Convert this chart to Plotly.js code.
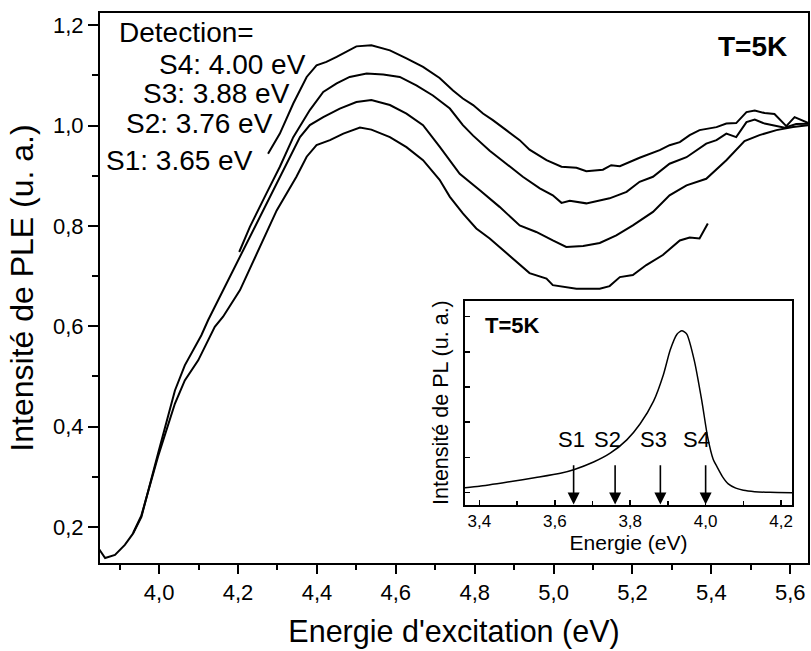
<!DOCTYPE html>
<html>
<head>
<meta charset="utf-8">
<script src="https://cdn.plot.ly/plotly-3.0.1.min.js"></script>
<style>html,body{margin:0;padding:0;background:#fff;}#chart{width:811px;height:651px;}</style>
</head>
<body>
<div id="chart"></div>
<script>
// ---- Data ----
const detNames = ["S1", "S2", "S3", "S4"];
const detEnergies = [3.65, 3.76, 3.88, 4.00];

const s1x = [3.934, 3.955, 3.997, 4.040, 4.065, 4.099, 4.141, 4.162, 4.205, 4.247, 4.298, 4.348, 4.374, 4.399, 4.433, 4.467, 4.509, 4.538, 4.585, 4.627, 4.669, 4.711, 4.737, 4.770, 4.804, 4.838, 4.872, 4.906, 4.939, 4.982, 4.998, 5.058, 5.117, 5.142, 5.168, 5.201, 5.235, 5.277, 5.320, 5.345, 5.370, 5.391];
const s1y = [0.188, 0.223, 0.340, 0.446, 0.492, 0.532, 0.599, 0.619, 0.672, 0.745, 0.831, 0.898, 0.938, 0.961, 0.971, 0.984, 0.996, 0.992, 0.977, 0.957, 0.931, 0.892, 0.858, 0.825, 0.795, 0.775, 0.752, 0.728, 0.706, 0.695, 0.682, 0.675, 0.675, 0.680, 0.698, 0.702, 0.722, 0.742, 0.771, 0.777, 0.775, 0.805];

const s2x = [3.838, 3.863, 3.888, 3.913, 3.934, 3.955, 3.997, 4.040, 4.065, 4.107, 4.124, 4.171, 4.238, 4.281, 4.323, 4.357, 4.382, 4.416, 4.458, 4.500, 4.538, 4.585, 4.627, 4.669, 4.711, 4.762, 4.813, 4.863, 4.914, 4.956, 4.998, 5.032, 5.075, 5.117, 5.159, 5.201, 5.252, 5.294, 5.337, 5.387, 5.438, 5.484, 5.522, 5.565, 5.607, 5.649];
const s2y = [0.167, 0.138, 0.144, 0.164, 0.187, 0.220, 0.346, 0.472, 0.522, 0.582, 0.612, 0.685, 0.791, 0.858, 0.924, 0.977, 1.001, 1.017, 1.034, 1.047, 1.051, 1.041, 1.024, 1.001, 0.958, 0.904, 0.871, 0.838, 0.801, 0.788, 0.771, 0.758, 0.760, 0.766, 0.781, 0.801, 0.828, 0.861, 0.881, 0.894, 0.931, 0.969, 0.981, 0.991, 0.997, 1.001];

const s3x = [4.203, 4.230, 4.272, 4.306, 4.340, 4.382, 4.416, 4.450, 4.483, 4.526, 4.568, 4.610, 4.652, 4.694, 4.737, 4.770, 4.796, 4.838, 4.880, 4.922, 4.965, 4.998, 5.020, 5.041, 5.083, 5.142, 5.185, 5.218, 5.252, 5.294, 5.337, 5.387, 5.413, 5.438, 5.463, 5.489, 5.510, 5.535, 5.586, 5.615, 5.649];
const s3y = [0.748, 0.798, 0.865, 0.918, 0.977, 1.031, 1.067, 1.084, 1.097, 1.104, 1.102, 1.097, 1.080, 1.060, 1.034, 1.001, 0.980, 0.950, 0.924, 0.898, 0.875, 0.861, 0.846, 0.850, 0.845, 0.855, 0.868, 0.888, 0.898, 0.924, 0.937, 0.964, 0.971, 0.984, 0.977, 1.007, 1.012, 1.004, 0.996, 1.003, 1.004];

const s4x = [4.276, 4.306, 4.340, 4.374, 4.399, 4.424, 4.450, 4.483, 4.500, 4.538, 4.585, 4.627, 4.669, 4.711, 4.745, 4.770, 4.796, 4.821, 4.846, 4.880, 4.914, 4.939, 4.982, 5.020, 5.058, 5.083, 5.125, 5.146, 5.168, 5.218, 5.269, 5.294, 5.320, 5.345, 5.370, 5.413, 5.438, 5.463, 5.489, 5.510, 5.535, 5.560, 5.590, 5.611, 5.632, 5.649];
const s4y = [0.944, 0.984, 1.044, 1.097, 1.120, 1.127, 1.137, 1.150, 1.158, 1.160, 1.150, 1.134, 1.117, 1.095, 1.070, 1.054, 1.041, 1.024, 1.011, 0.991, 0.971, 0.952, 0.931, 0.918, 0.916, 0.909, 0.912, 0.921, 0.919, 0.936, 0.951, 0.961, 0.967, 0.981, 0.991, 0.997, 1.004, 1.005, 1.027, 1.030, 1.025, 1.023, 0.999, 1.017, 1.009, 1.004];

// Inset: PL spectrum (arbitrary units)
const plX = [3.362, 3.40, 3.48, 3.55, 3.615, 3.652, 3.703, 3.747, 3.791, 3.826, 3.862, 3.888, 3.906, 3.924, 3.937, 3.950, 3.970, 3.990, 4.005, 4.020, 4.030, 4.045, 4.060, 4.080, 4.100, 4.130, 4.170, 4.229];
const plY = [0.14, 0.18, 0.31, 0.43, 0.55, 0.66, 0.87, 1.12, 1.50, 1.95, 2.60, 3.35, 4.05, 4.50, 4.60, 4.50, 3.75, 2.60, 1.60, 0.95, 0.74, 0.45, 0.25, 0.13, 0.07, 0.03, 0.01, 0.0];

// ---- Chart ----
const FONT = "Liberation Sans, Arial, Helvetica, sans-serif";
const lineStyle = {color: "#000", width: 2};
const series = [[s1x, s1y], [s2x, s2y], [s3x, s3y], [s4x, s4y]];
const traces = series.map((s, i) => ({
  x: s[0], y: s[1], type: "scatter", mode: "lines", name: detNames[i],
  line: lineStyle, xaxis: "x", yaxis: "y", hoverinfo: "x+y+name"
}));
traces.push({
  x: plX, y: plY, type: "scatter", mode: "lines", name: "PL",
  line: {color: "#000", width: 1.5, shape: "spline", smoothing: 0.6},
  xaxis: "x2", yaxis: "y2"
});

const W = 811, H = 651, ML = 100, MR = 3, MT = 13, MB = 88;
const PW = W - ML - MR, PH = H - MT - MB;
const px = p => (p - ML) / PW;        // pixel -> paper x
const py = p => (H - MB - p) / PH;    // pixel -> paper y

const annotations = [];
// "Detection=" block
annotations.push({xref: "paper", yref: "paper", x: px(117), y: py(32), xanchor: "left", yanchor: "middle",
  text: "Detection=", showarrow: false, font: {family: FONT, size: 28, color: "#000"}});
const labelRight = [255, 275, 292, 308];
const labelY = [161, 124, 94, 64];
detNames.forEach((n, i) => {
  annotations.push({xref: "paper", yref: "paper", x: px(labelRight[i]), y: py(labelY[i]), xanchor: "right", yanchor: "middle",
    text: n + ": " + detEnergies[i].toFixed(2) + " eV", showarrow: false, font: {family: FONT, size: 28, color: "#000"}});
});
// T=5K main
annotations.push({xref: "paper", yref: "paper", x: px(789), y: py(47), xanchor: "right", yanchor: "middle",
  text: "<b>T=5K</b>", showarrow: false, font: {family: FONT, size: 28, color: "#000"}});
// T=5K inset
annotations.push({xref: "paper", yref: "paper", x: px(483), y: py(325), xanchor: "left", yanchor: "middle",
  text: "<b>T=5K</b>", showarrow: false, font: {family: FONT, size: 22, color: "#000"}});
// inset arrows and labels
const labShift = [-2, -8, -7, -9];
detEnergies.forEach((e, i) => {
  annotations.push({xref: "x2", yref: "y2", x: e, y: -0.335, axref: "x2", ayref: "y2", ax: e, ay: 0.82,
    text: "", showarrow: true, arrowhead: 2, arrowsize: 1.5, arrowwidth: 1.6, arrowcolor: "#000", standoff: 0});
  annotations.push({xref: "x2", yref: "y2", x: e, y: 1.5, xshift: labShift[i], xanchor: "center", yanchor: "middle",
    text: detNames[i], showarrow: false, font: {family: FONT, size: 22, color: "#000"}});
});

const layout = {
  width: W, height: H,
  margin: {l: ML, r: MR, t: MT, b: MB, pad: 0},
  paper_bgcolor: "#fff", plot_bgcolor: "#fff",
  separators: ", ",
  showlegend: false,
  font: {family: FONT, color: "#000"},
  xaxis: {
    domain: [0, 1], range: [3.85, 5.645], anchor: "y",
    tick0: 0, dtick: 0.2, tickformat: ".1f",
    ticks: "outside", ticklen: 9, tickwidth: 2, tickcolor: "#000",
    minor: {dtick: 0.1, ticks: "outside", ticklen: 5, tickwidth: 2, tickcolor: "#000"},
    showline: true, linewidth: 2, linecolor: "#000", mirror: true,
    showgrid: false, zeroline: false,
    tickfont: {family: FONT, size: 22, color: "#000"},
    title: {text: "Energie d'excitation (eV)", font: {family: FONT, size: 30.5, color: "#000"}, standoff: 16}
  },
  yaxis: {
    domain: [0, 1], range: [0.128, 1.2245], anchor: "x",
    tick0: 0, dtick: 0.2, tickformat: ".1f",
    ticks: "outside", ticklen: 10, tickwidth: 2, tickcolor: "#000",
    minor: {dtick: 0.1, ticks: "outside", ticklen: 6, tickwidth: 2, tickcolor: "#000"},
    showline: true, linewidth: 2, linecolor: "#000", mirror: true,
    showgrid: false, zeroline: false,
    tickfont: {family: FONT, size: 22, color: "#000"},
    title: {text: "Intensité de PLE (u. a.)", font: {family: FONT, size: 32, color: "#000"}, standoff: 10}
  },
  xaxis2: {
    domain: [px(465), px(792)], range: [3.362, 4.229], anchor: "y2",
    tick0: 0, dtick: 0.2, tickformat: ".1f",
    ticks: "inside", ticklen: 5, tickwidth: 1.5, tickcolor: "#000",
    minor: {dtick: 0.1, ticks: "inside", ticklen: 4, tickwidth: 1.5, tickcolor: "#000"},
    showline: true, linewidth: 2, linecolor: "#000", mirror: true,
    showgrid: false, zeroline: false,
    tickfont: {family: FONT, size: 17, color: "#000"},
    title: {text: "Energie (eV)", font: {family: FONT, size: 21, color: "#000"}, standoff: 2}
  },
  yaxis2: {
    domain: [py(504.5), py(300.7)], range: [-0.335, 5.45], anchor: "x2",
    tick0: 0, dtick: 1, showticklabels: false,
    ticks: "inside", ticklen: 5, tickwidth: 1.5, tickcolor: "#000",
    showline: true, linewidth: 2, linecolor: "#000", mirror: true,
    showgrid: false, zeroline: false,
    title: {text: "Intensité de PL (u. a.)", font: {family: FONT, size: 21.5, color: "#000"}, standoff: 8}
  },
  annotations: annotations
};

Plotly.newPlot("chart", traces, layout, {displayModeBar: false, staticPlot: true});
</script>
</body>
</html>
